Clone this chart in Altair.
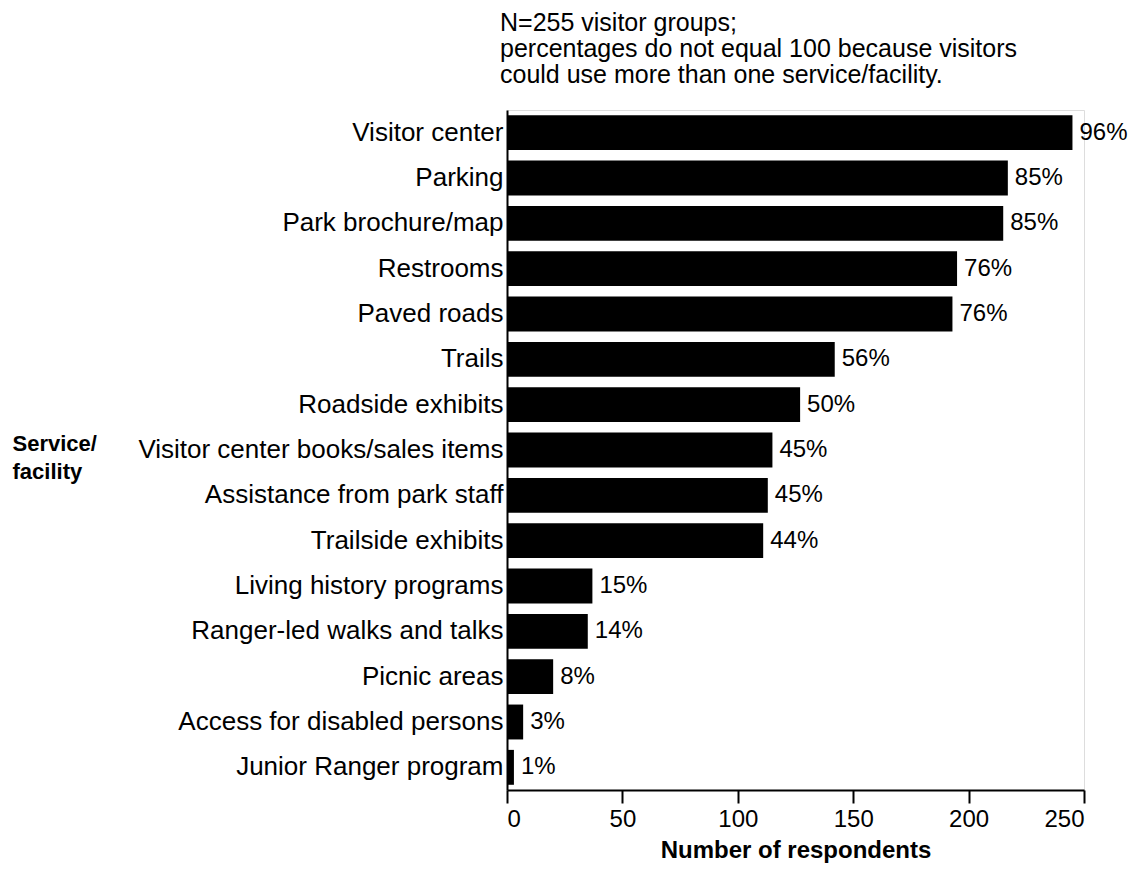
import altair as alt
import pandas as pd

categories = [
    "Visitor center", "Parking", "Park brochure/map", "Restrooms", "Paved roads",
    "Trails", "Roadside exhibits", "Visitor center books/sales items",
    "Assistance from park staff", "Trailside exhibits", "Living history programs",
    "Ranger-led walks and talks", "Picnic areas", "Access for disabled persons",
    "Junior Ranger program",
]
counts = [245, 217, 215, 195, 193, 142, 127, 115, 113, 111, 37, 35, 20, 7, 3]
pct_labels = ["96%", "85%", "85%", "76%", "76%", "56%", "50%", "45%", "45%", "44%",
              "15%", "14%", "8%", "3%", "1%"]
x_ticks = [0, 50, 100, 150, 200, 250]
subtitle = ["N=255 visitor groups;",
            "percentages do not equal 100 because visitors",
            "could use more than one service/facility."]

df = pd.DataFrame({"cat": categories, "n": counts, "lab": pct_labels})

FONT = "Liberation Sans"

y = alt.Y("cat:N", sort=categories, scale=alt.Scale(paddingInner=0.23, paddingOuter=0.115),
          axis=alt.Axis(title=["Service/", "facility"], titleAngle=0, titleAlign="left",
                        titleBaseline="top", titleX=-495, titleY=323,
                        titleFont=FONT, titleFontSize=22, titleFontWeight="bold",
                        titleLineHeight=28, titleColor="black",
                        labelFont=FONT, labelFontSize=26, labelColor="black",
                        labelPadding=4, ticks=False, domainColor="black",
                        domainWidth=2, labelLimit=500))
x = alt.X("n:Q", scale=alt.Scale(domain=[0, 250], nice=False),
          axis=alt.Axis(values=x_ticks, title="Number of respondents", grid=False,
                        titleFont=FONT, titleFontSize=24, titleFontWeight="bold",
                        titleColor="black", titlePadding=7,
                        labelFont=FONT, labelFontSize=24, labelColor="black",
                        labelPadding=4, tickSize=13, tickWidth=2, tickColor="black",
                        domainColor="black", domainWidth=2))

bars = alt.Chart(df).mark_bar(color="black").encode(x=x, y=y)
text = alt.Chart(df).mark_text(align="left", baseline="middle", dx=7, font=FONT,
                               fontSize=24, color="black").encode(
    x="n:Q", y=alt.Y("cat:N", sort=categories), text="lab:N")

chart = (bars + text).properties(
    width=577, height=680,
    title=alt.TitleParams(text=subtitle, anchor="start", frame="group", dx=-7,
                          font=FONT, fontSize=25, fontWeight="normal", color="black",
                          lineHeight=26, offset=22),
    autosize=alt.AutoSizeParams(type="none"),
    padding={"left": 499, "top": 102, "right": 46, "bottom": 80},
).configure_view(stroke=None).configure(background="white")

chart.save("out.html", embed_options={"renderer": "svg", "actions": False})
